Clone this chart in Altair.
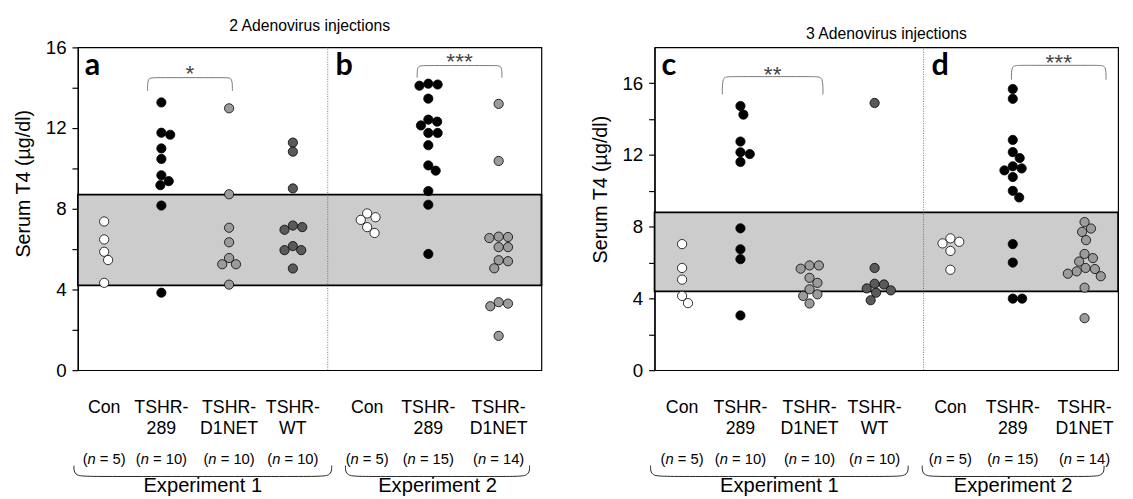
import altair as alt
import pandas as pd

# ---------------- data ----------------
group_keys = ["Con", "TSHR-289", "TSHR-D1NET", "TSHR-WT", "Con", "TSHR-289", "TSHR-D1NET"]
label_top = ["Con", "TSHR-", "TSHR-", "TSHR-", "Con", "TSHR-", "TSHR-"]
label_bottom = ["", "289", "D1NET", "WT", "", "289", "D1NET"]
n_values = [5, 10, 10, 10, 5, 15, 14]
experiment_names = ["Experiment 1", "Experiment 2"]
panel_titles = ["2 Adenovirus injections", "3 Adenovirus injections"]
panel_letters = [["a", "b"], ["c", "d"]]
y_ticks = [0, 2, 4, 6, 8, 10, 12, 14, 16]
y_title = "Serum T4 (µg/dl)"

# panel a / b (2 injections)
a_con = [7.37, 6.48, 5.87, 5.46, 4.33]
a_289 = [13.27, 11.77, 11.67, 10.99, 10.47, 9.66, 9.37, 9.17, 8.16, 3.84]
a_d1net = [12.98, 8.72, 7.06, 6.34, 5.56, 5.25, 5.25, 4.24]
a_wt = [11.28, 10.83, 9.01, 7.17, 7.09, 6.96, 6.15, 5.95, 5.95, 5.04]
b_con = [7.77, 7.58, 7.45, 7.09, 6.80]
b_289 = [14.20, 14.16, 14.10, 13.46, 12.42, 12.32, 12.13, 11.76, 11.76, 11.15,
         10.15, 9.89, 8.88, 8.20, 5.76]
b_d1net = [13.20, 10.37, 6.62, 6.60, 6.55, 6.10, 6.10, 5.45, 5.40, 5.05,
           3.37, 3.30, 3.17, 1.70]

# panel c / d (3 injections)
c_con = [7.03, 5.70, 5.05, 4.14, 3.74]
c_289 = [14.73, 14.25, 12.75, 12.15, 12.05, 11.61, 7.91, 6.74, 6.19, 3.05]
c_d1net = [5.84, 5.84, 5.66, 5.15, 4.87, 4.51, 4.23, 4.14, 3.72]
c_wt = [14.90, 5.70, 4.82, 4.78, 4.56, 4.45, 4.32, 3.90]
d_con = [7.35, 7.16, 7.07, 6.65, 5.60]
d_289 = [15.68, 15.13, 12.84, 12.16, 11.83, 11.37, 11.25, 11.14, 10.77, 10.00,
         9.63, 7.03, 6.00, 3.99, 3.99]
d_d1net = [8.26, 7.90, 7.71, 7.25, 6.48, 6.25, 6.06, 5.70, 5.64, 5.51, 5.38,
           5.24, 4.60, 2.90]

panel1_values = [a_con, a_289, a_d1net, a_wt, b_con, b_289, b_d1net]
panel2_values = [c_con, c_289, c_d1net, c_wt, d_con, d_289, d_d1net]

normal_range_1 = [4.2, 8.7]
normal_range_2 = [4.4, 8.8]

# significance: (group i, group j, stars)
sig_1 = [(1, 2, "*"), (5, 6, "***")]
sig_2 = [(1, 2, "**"), (5, 6, "***")]

# ---------------- layout / style ----------------
FONT = "Liberation Sans"
W, H = 471, 328
POS = [1, 1.87, 2.9, 3.87, 5, 5.93, 7]
fill_of = {"Con": "white", "TSHR-289": "black", "TSHR-D1NET": "#9b9b9b", "TSHR-WT": "#5a5a5a"}
# bracket geometry: (left offset, right offset, top, end, star centre) in data units
sig_geom_1 = [(-0.21, 0.05, 14.5, 13.85, 14.97), (-0.17, 0.05, 15.1, 14.5, 15.55)]
sig_geom_2 = [(-0.27, 0.2, 16.37, 15.38, 16.8), (-0.02, 0.32, 17.0, 16.2, 17.47)]
brace_spans_1 = [(0.54, 4.46), (4.67, 7.47)]
brace_spans_2 = [(0.53, 4.37), (4.58, 7.29)]

CW = {'(': 0.333, ')': 0.333, 'n': 0.556, ' ': 0.278, '=': 0.584}


def tw(s, fs):
    return sum(CW.get(c, 0.556) for c in s) * fs


def dodge(values, ppx, ppy, dmin=9.2):
    placed, offs = [], []
    for v in values:
        yp = v * ppy
        dx = 0.0
        for k in range(400):
            step = ((k + 1) // 2) * 0.5
            dx = step if k % 2 == 1 else -step
            if all((dx - px) ** 2 + (yp - py) ** 2 >= dmin ** 2 for px, py in placed):
                break
        placed.append((dx, yp))
        offs.append(dx / ppx)
    return offs


def brace_path(rows, pid, xa, xb, yt, yb, e):
    pts = [(xa, yt), (xa, yb), (xa + e, yb), (xb - e, yb), (xb, yb), (xb, yt)]
    for o, (x, y) in enumerate(pts):
        rows.append({"id": pid, "o": o, "x": x, "y": y})


def panel(values_list, ymax, xdom, sep, band, sigs, geoms, spans, letters, title, title_y):
    ppx = W / (xdom[1] - xdom[0])
    ppy = H / ymax
    pos = POS
    xs = alt.Scale(domain=xdom, nice=False, zero=False)
    ys = alt.Scale(domain=[0, ymax], nice=False, zero=False)
    yaxis = alt.Axis(values=y_ticks, labelExpr="datum.value % 4 == 0 ? datum.label : ''",
                     tickSize=6, tickColor="black", domainColor="black", labelColor="black",
                     domainWidth=1.3, tickWidth=1.2,
                     labelFontSize=19, labelFont=FONT, title=y_title, titleFontSize=20,
                     titleFont=FONT, titleFontWeight="normal", titleColor="black",
                     titleY=title_y,
                     grid=False, labelPadding=6, titlePadding=12)

    def X(f="x"):
        return alt.X(f, type="quantitative", scale=xs, axis=None)

    def Y(f="y"):
        return alt.Y(f, type="quantitative", scale=ys, axis=yaxis)

    band_df = pd.DataFrame({"y": [band[0]], "y2": [band[1]]})
    band_l = alt.Chart(band_df).mark_rect(fill="#cccccc", stroke="black", strokeWidth=1.8).encode(
        x=alt.value(0), x2=alt.value(W), y=Y("y"), y2="y2")

    sep_df = pd.DataFrame({"x": [sep], "y": [0], "y2": [ymax]})
    sep_l = alt.Chart(sep_df).mark_rule(color="#555555", strokeWidth=0.8, strokeDash=[1, 1.5]).encode(
        x=X(), y=Y("y"), y2="y2")

    prow = []
    for gi, vals in enumerate(values_list):
        offs = dodge(vals, ppx, ppy)
        for v, o in zip(vals, offs):
            prow.append({"x": pos[gi] + o, "y": v, "fill": fill_of[group_keys[gi]]})
    pts_l = alt.Chart(pd.DataFrame(prow)).mark_point(
        shape="circle", filled=True, size=88, stroke="black", strokeWidth=0.8, opacity=1).encode(
        x=X(), y=Y(), fill=alt.Fill("fill:N", scale=None))

    brow, srow = [], []
    for k, ((i, j, stars), (lo, ro, top, end, sy)) in enumerate(zip(sigs, geoms)):
        xa, xb = pos[i] + lo, pos[j] + ro
        e = 0.09
        pts = [(xa, end), (xa, top), (xa + e, top), (xb - e, top), (xb, top), (xb, end)]
        for o, (x, y) in enumerate(pts):
            brow.append({"id": k, "o": o, "x": x, "y": y})
        srow.append({"x": (xa + xb) / 2, "y": sy, "t": stars})
    br_l = alt.Chart(pd.DataFrame(brow)).mark_line(
        interpolate="basis", color="#777777", strokeWidth=1).encode(
        x=X(), y=Y(), detail="id:N", order="o:Q")
    st_l = alt.Chart(pd.DataFrame(srow)).mark_text(
        font=FONT, fontSize=23, color="#444444", baseline="alphabetic", dy=13).encode(
        x=X(), y=Y(), text="t:N")

    let_l = []
    for x0, t, dx in [(xdom[0], letters[0], 7), (sep, letters[1], 8)]:
        let_l.append(alt.Chart(pd.DataFrame([{"x": x0, "y": ymax, "t": t}])).mark_text(
            font="Lato", fontWeight="bold", fontSize=31, align="left", baseline="alphabetic",
            dx=dx, dy=28, color="black").encode(x=X(), y=Y(), text="t:N"))

    lab = []
    for gi in range(7):
        lab.append({"x": pos[gi], "y": -38 / ppy, "t": label_top[gi]})
        if label_bottom[gi]:
            lab.append({"x": pos[gi], "y": -60 / ppy, "t": label_bottom[gi]})
    lab_l = alt.Chart(pd.DataFrame(lab)).mark_text(
        font=FONT, fontSize=18, color="black", baseline="middle").encode(
        x=X(), y=Y(), text="t:N")

    fsn = 15
    nrm, itl = [], []
    for gi in range(7):
        full = "(n = %d)" % n_values[gi]
        x0 = pos[gi] - tw(full, fsn) / 2 / ppx
        yv = -90 / ppy
        nrm.append({"x": x0, "y": yv, "t": "("})
        itl.append({"x": x0 + tw("(", fsn) / ppx, "y": yv, "t": "n"})
        nrm.append({"x": x0 + tw("(n ", fsn) / ppx, "y": yv, "t": "= %d)" % n_values[gi]})
    n1 = alt.Chart(pd.DataFrame(nrm)).mark_text(
        font=FONT, fontSize=fsn, align="left", baseline="middle", color="black").encode(
        x=X(), y=Y(), text="t:N")
    n2 = alt.Chart(pd.DataFrame(itl)).mark_text(
        font=FONT, fontSize=fsn, fontStyle="italic", align="left", baseline="middle",
        color="black").encode(x=X(), y=Y(), text="t:N")

    crow = []
    for k, (xa, xb) in enumerate(spans):
        brace_path(crow, k, xa, xb, -97 / ppy, -108 / ppy, 0.28)
    cb_l = alt.Chart(pd.DataFrame(crow)).mark_line(
        interpolate="basis", color="#222222", strokeWidth=1).encode(
        x=X(), y=Y(), detail="id:N", order="o:Q")
    ex_df = pd.DataFrame({"x": [(a + b) / 2 for a, b in spans], "y": [-118 / ppy] * 2,
                          "t": experiment_names})
    ex_l = alt.Chart(ex_df).mark_text(
        font=FONT, fontSize=20.5, baseline="middle", color="black").encode(
        x=X(), y=Y(), text="t:N")

    layers = [band_l, sep_l, br_l, pts_l, st_l] + let_l + [lab_l, n1, n2, cb_l, ex_l]
    return alt.layer(*layers).properties(
        width=W, height=H,
        view=alt.ViewConfig(stroke="black", strokeWidth=1.2),
        title=alt.TitleParams(title, fontSize=16, font=FONT, fontWeight="normal",
                              offset=5, frame="group", anchor="middle", color="black"))


left = panel(panel1_values, 16, [0.6, 7.65], 4.4, normal_range_1, sig_1, sig_geom_1,
             brace_spans_1, panel_letters[0], panel_titles[0], 138)
right = panel(panel2_values, 18, [0.59, 7.5], 4.6, normal_range_2, sig_2, sig_geom_2,
              brace_spans_2, panel_letters[1], panel_titles[1], 144)

chart = alt.hconcat(left, right, spacing=47).configure_view(
    stroke="black", strokeWidth=1.2).configure(background="white")

chart.save("out.html", embed_options={"renderer": "svg", "actions": False})
